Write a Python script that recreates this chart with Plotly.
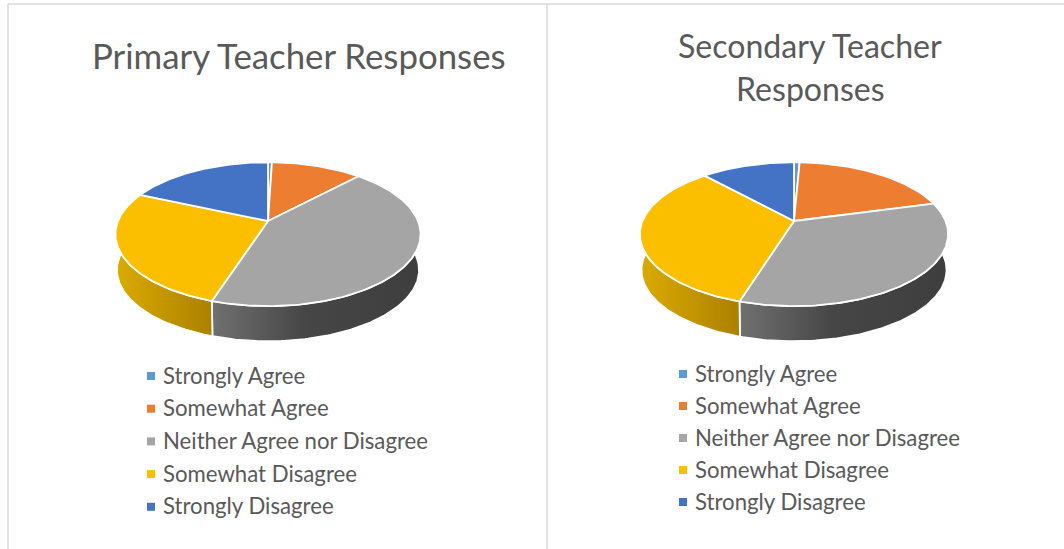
import numpy as np
import plotly.graph_objects as go

categories = ["Strongly Agree", "Somewhat Agree", "Neither Agree nor Disagree", "Somewhat Disagree", "Strongly Disagree"]
primary_values = [0.5, 11.5, 43.0, 26.6, 18.4]
secondary_values = [0.7, 20.1, 34.0, 33.5, 11.7]
primary_title = ["Primary Teacher Responses"]
secondary_title = ["Secondary Teacher", "Responses"]

colors = ["#5B9BD5", "#ED7D31", "#A5A5A5", "#FCBF00", "#4472C4"]
wall_scales = [
    [[0, "#4a7aa6"], [1, "#2f5f8a"]],
    [[0, "#c46528"], [1, "#a04f1c"]],
    [[0, "#707070"], [0.45, "#464646"], [1, "#3e3e3e"]],
    [[0, "#DBAB00"], [1, "#AB8000"]],
    [[0, "#36609f"], [1, "#2a4c80"]],
]
TEXT = "#595959"
FRAME = "#D9D9D9"
FONT = "Lato"

RY, K = 69.5, 0.183


def project(theta, cx, cy, rx, drop=0.0, sx=1.0, sy=1.0):
    u, v = np.sin(theta), -np.cos(theta)
    w = 1 - K * v
    return cx + sx * rx * u / w, cy + drop + sy * RY * v / w


def pie3d(values, cx, cy, rx):
    traces_wall, traces_top = [], []
    shares = np.cumsum([0] + list(values)) / sum(values) * 2 * np.pi
    for i, color in enumerate(colors):
        th = np.linspace(shares[i], shares[i + 1], max(6, int((shares[i + 1] - shares[i]) * 60)))
        x0, y0 = project(th, cx, cy, rx)
        x1, y1 = project(th[::-1], cx, cy, rx, 36, 0.99, 0.99)
        traces_wall.append(go.Scatter(
            x=np.r_[x0, x1, x0[0]], y=np.r_[y0, y1, y0[0]], mode="lines", fill="toself",
            line=dict(color="white", width=1.8),
            fillgradient=dict(type="horizontal", colorscale=wall_scales[i]),
            hoverinfo="skip", showlegend=False))
        traces_top.append(go.Scatter(
            x=np.r_[cx, x0, cx], y=np.r_[cy, y0, cy], mode="lines", fill="toself", fillcolor=color,
            line=dict(color="white", width=1.8), name=categories[i], hoverinfo="name", showlegend=False))
    return traces_wall + traces_top


def legend_rows(x_mark, x_text, y_start, step):
    ys = [y_start + step * i for i in range(len(categories))]
    return [
        go.Scatter(x=[x_mark] * len(ys), y=ys, mode="markers",
                   marker=dict(symbol="square", size=8, color=colors, line=dict(width=0)),
                   hoverinfo="skip", showlegend=False),
        go.Scatter(x=[x_text] * len(ys), y=[y + 2 for y in ys], mode="text", text=categories,
                   textposition="middle right",
                   textfont=dict(family=FONT, size=22.2, color=TEXT), hoverinfo="skip", showlegend=False),
    ]


fig = go.Figure()
fig.add_traces(pie3d(primary_values, 268, 221, 150))
fig.add_traces(pie3d(secondary_values, 794, 221, 151.5))
fig.add_traces(legend_rows(151, 163, 376, 32.7))
fig.add_traces(legend_rows(683, 695, 374, 32))

for lines, xc, ys, size in [(primary_title, 299, [55.5], 34.8), (secondary_title, 810, [45.5, 88.5], 32.1)]:
    for line, y in zip(lines, ys):
        fig.add_annotation(x=xc, y=y, text=line, showarrow=False, xanchor="center", yanchor="middle",
                           font=dict(family=FONT, size=size, color=TEXT))

for x0, y0, x1, y1 in [(8, 4, 1064, 4), (8, 4, 8, 549), (547, 4, 547, 549)]:
    fig.add_shape(type="line", x0=x0, y0=y0, x1=x1, y1=y1, line=dict(color=FRAME, width=1.5), layer="below")

fig.update_layout(
    width=1064, height=549, margin=dict(l=0, r=0, t=0, b=0),
    paper_bgcolor="white", plot_bgcolor="white", showlegend=False,
    xaxis=dict(range=[0, 1064], visible=False, fixedrange=True),
    yaxis=dict(range=[549, 0], visible=False, fixedrange=True),
)
fig.write_html("out.html", config={"displayModeBar": False},
               post_script="document.body.style.margin='0';document.documentElement.style.overflow='hidden';")
